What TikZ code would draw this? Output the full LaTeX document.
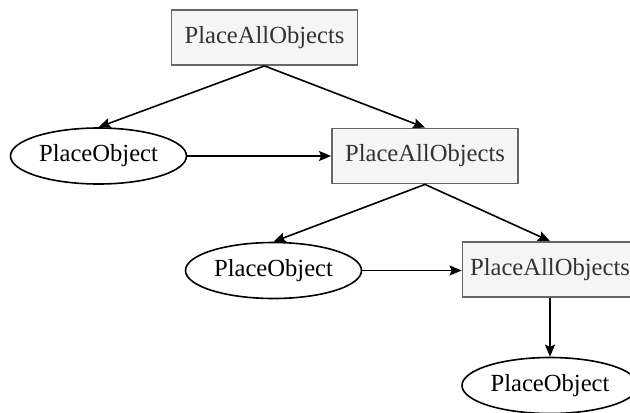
\documentclass[tikz,border=0pt]{standalone}
\usepackage{fontspec}
\setmainfont{Liberation Serif}
\usetikzlibrary{arrows.meta, shapes.geometric}

\definecolor{boxfill}{HTML}{F5F5F5}
\definecolor{boxline}{HTML}{666666}
\definecolor{boxtext}{HTML}{333333}

\tikzset{
	allbox/.style={draw=boxline, fill=boxfill, text=boxtext, line width=0.9pt,
		minimum width=93pt, minimum height=27.5pt, inner sep=0pt},
	objell/.style={draw, ellipse, line width=0.8pt, minimum width=88pt,
		minimum height=28pt, inner sep=0pt},
	edge/.style={-{Stealth[length=6pt, width=5pt, inset=1pt]}, line width=0.8pt}
}

\begin{document}
\begin{tikzpicture}[x=0.5pt, y=-0.5pt, every node/.style={font=\fontsize{12.3}{14}\selectfont}]
				\useasboundingbox (0,0) rectangle (630,412);

				\node[allbox] (all1) at (264.5,37.5) {PlaceAllObjects};
				\node[objell] (obj1) at (98.5,156) {PlaceObject};
				\node[allbox] (all2) at (425,156) {PlaceAllObjects};
				\node[objell] (obj2) at (273.5,270.5) {PlaceObject};
				\node[allbox, minimum width=87.5pt] (all3) at (550,269.5) {PlaceAllObjects};
				\node[objell] (obj3) at (550,385.5) {PlaceObject};

				\draw[edge] (all1.south) -- (obj1.north);
				\draw[edge] (all1.south) -- (all2.north);
				\draw[edge] (obj1.east) -- (all2.west);

				\draw[edge] (all2.south) -- (obj2.north);
				\draw[edge] (all2.south) -- (all3.north);
				\draw[edge] (obj2.east) -- (obj2.east -| all3.west);

				\draw[edge] (all3.south) -- (obj3.north);
\end{tikzpicture}
\end{document}
